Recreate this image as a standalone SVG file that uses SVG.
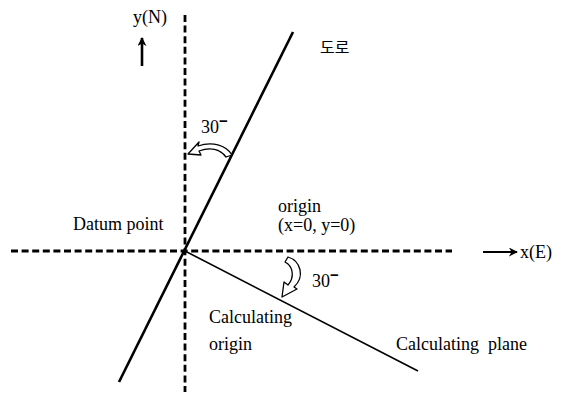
<svg xmlns="http://www.w3.org/2000/svg" width="569" height="394" viewBox="0 0 569 394">
<style>
.t{font-family:"Liberation Serif","Times New Roman",serif;font-size:18px;fill:#000;white-space:pre}
.k{font-family:"Noto Sans CJK KR","Noto Sans",sans-serif;font-size:16px;fill:#000}
.sup{font-family:"Liberation Sans",sans-serif;font-weight:bold;font-size:15px}
.dash{stroke:#000;stroke-width:2.8;stroke-dasharray:7 3.6;fill:none}
.solid{stroke:#000;fill:none}
.curl{fill:#fff;stroke:#000;stroke-width:1.3;stroke-linejoin:round}
</style>
<defs>
<marker id="ah" viewBox="0 0 10 10" refX="9" refY="5" markerWidth="9" markerHeight="9" markerUnits="userSpaceOnUse" orient="auto">
<path d="M0,0 L10,5 L0,10 L3,5 Z" fill="#000"/>
</marker>
</defs>
<rect width="569" height="394" fill="#fff"/>
<g id="connectors">
<line id="y-axis" class="dash" x1="185" y1="15" x2="185" y2="392"/>
<line id="x-axis" class="dash" x1="11" y1="251" x2="452" y2="251"/>
<line id="road" class="solid" stroke-width="2.6" x1="293" y1="32" x2="119" y2="382"/>
<line id="calc-plane" class="solid" stroke-width="1.6" x1="185" y1="251" x2="418" y2="371"/>
<line id="north-arrow" class="solid" stroke-width="2.6" x1="142" y1="66" x2="142" y2="38" marker-end="url(#ah)"/>
<line id="east-arrow" class="solid" stroke-width="2" x1="483" y1="252" x2="517" y2="252" marker-end="url(#ah)"/>
</g>
<g id="angle1">
<path class="curl" d="M232 155 C226 145,212 141,198 146 L199 142 L188 154 L201 155 L199 151 C210 147,220 149,226 157 Z"/>
<text class="t" x="201" y="133">30<tspan class="sup" dy="-7">−</tspan></text>
</g>
<g id="angle2">
<path class="curl" d="M288 257 C301 261,305 277,294 287 L297 289 L282 297 L284 282 L288 285 C295 277,293 266,285 262 Z"/>
<text class="t" x="312" y="287">30<tspan class="sup" dy="-7">−</tspan></text>
</g>
<g id="labels">
<text class="t" x="133" y="23">y(N)</text>
<text class="k" x="320" y="53">도로</text>
<text class="t" x="73" y="230">Datum point</text>
<text class="t" x="278" y="212">origin</text>
<text class="t" x="278" y="231">(x=0, y=0)</text>
<text class="t" x="520" y="258">x(E)</text>
<text class="t" x="209" y="323">Calculating</text>
<text class="t" x="209" y="350">origin</text>
<text class="t" x="396" y="350">Calculating  plane</text>
</g>
</svg>
